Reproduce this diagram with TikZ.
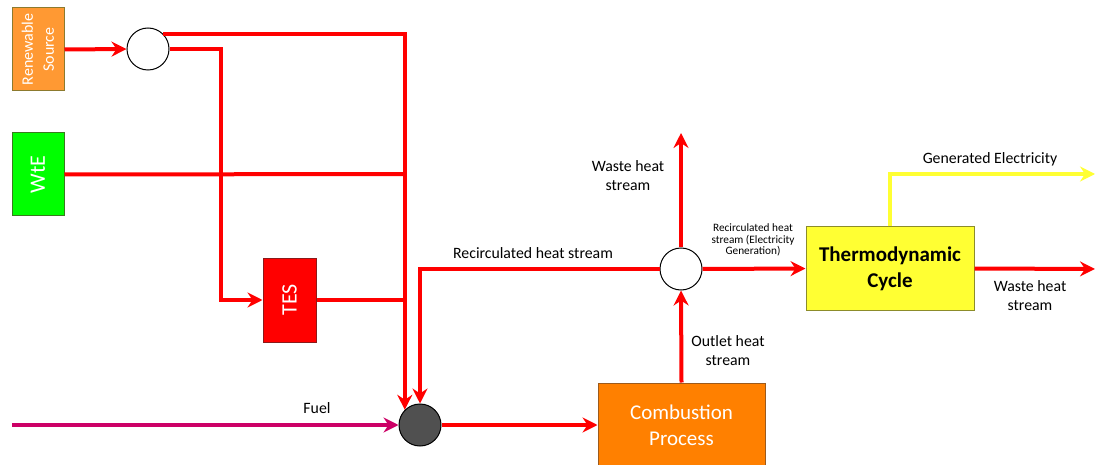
\documentclass[tikz,border=0pt]{standalone}
\usepackage{fontspec}
\setmainfont{Carlito}
\usetikzlibrary{arrows.meta}
\definecolor{flowred}{HTML}{FF0000}
\definecolor{fuelmag}{HTML}{CC0066}
\definecolor{elecyel}{HTML}{FFFF33}
\definecolor{renorange}{HTML}{FF9933}
\definecolor{renborder}{HTML}{8C7A2E}
\definecolor{wtegreen}{HTML}{00FF00}
\definecolor{wteborder}{HTML}{3A7A1E}
\definecolor{tesborder}{HTML}{8B1A1A}
\definecolor{combfill}{HTML}{FF8000}
\definecolor{combborder}{HTML}{9C5A1C}
\definecolor{thermofill}{HTML}{FFFF33}
\definecolor{thermoborder}{HTML}{8C8C2A}
\definecolor{mixfill}{HTML}{505050}
\begin{document}
\begin{tikzpicture}[x=1pt,y=-1pt,
  tip/.style={-{Stealth[length=15pt,width=15pt,inset=5pt]}},
  flow/.style={draw=flowred,line width=4pt},
  fuelflow/.style={draw=fuelmag,line width=4pt},
  elecflow/.style={draw=elecyel,line width=4pt},
  srcbox/.style={rectangle,line width=1pt,inner sep=0pt,text=white,align=center},
  junction/.style={circle,draw=black,line width=1pt,minimum size=42pt,inner sep=0pt},
  lbl/.style={align=center,text=black,font=\fontsize{15.8}{19}\selectfont},
  smalllbl/.style={align=center,text=black,font=\fontsize{11.3}{11.8}\selectfont}]
\useasboundingbox (0,0) rectangle (1095,465);

% boxes
\node[srcbox,fill=renorange,draw=renborder,minimum width=52pt,minimum height=83pt] (ren) at (38,49.5) {};
\node[rotate=90,text=white,align=center,font=\fontsize{16}{21}\selectfont] (rentxt) at (ren.center) {Renewable\\Source};
\node[srcbox,fill=wtegreen,draw=wteborder,minimum width=52pt,minimum height=83pt] (wte) at (38,174.5) {};
\node[rotate=90,text=white,font=\fontsize{22}{24}\selectfont] (wtetxt) at (wte.center) {WtE};
\node[srcbox,fill=flowred,draw=tesborder,minimum width=53pt,minimum height=84pt] (tes) at (289.5,300) {};
\node[rotate=90,text=white,font=\fontsize{22}{24}\selectfont] (testxt) at (tes.center) {TES};
\node[srcbox,fill=combfill,draw=combborder,minimum width=167pt,minimum height=84pt,font=\fontsize{21}{26}\selectfont] (comb) at (681.5,425) {Combustion\\Process};
\node[srcbox,fill=thermofill,draw=thermoborder,minimum width=168pt,minimum height=83pt,text=black,font=\fontsize{21}{26}\selectfont\bfseries] (thermo) at (890,268.5) {Thermodynamic\\Cycle};

% junctions
\node[junction,fill=white] (c1) at (148,49) {};
\node[junction,fill=white] (split) at (681,269) {};
\node[junction,fill=mixfill] (mix) at (420,425) {};

% free ends
\coordinate (j1) at (405,174);
\coordinate (j2) at (405,300);
\coordinate (fuelin) at (12,425);
\coordinate (wasteup) at (681,133);
\coordinate (wasteright) at (1095,269);
\coordinate (elecout) at (1095,174);

% connectors
\draw[flow,tip] (ren.east) -- (c1.west);
\draw[flow,tip] (c1.45) -| (mix.135.6);
\draw[flow,tip] (c1.east) -- ++(51,0) |- (tes.west);
\draw[flow] (wte.east) -- (j1);
\draw[flow] (tes.east) -- (j2);
\draw[flow,tip] (split.west) -| (mix.north);
\draw[fuelflow,tip] (fuelin) -- (mix.west);
\draw[flow,tip] (mix.east) -- (comb.west);
\draw[flow,tip] (comb.north) -- (split.south);
\draw[flow,tip] (split.north) -- (wasteup);
\draw[flow,tip] (split.east) -- (thermo.west);
\draw[flow,tip] (thermo.east) -- (wasteright);
\draw[elecflow,tip] (thermo.north) |- (elecout);

% labels
\node[lbl] (lfuel) at (317,408) {Fuel};
\node[lbl] (lrecirc) at (533,253) {Recirculated heat stream};
\node[lbl] (lwaste1) at (628,176) {Waste heat\\stream};
\node[smalllbl] (lrecel) at (753,240) {Recirculated heat\\stream (Electricity\\Generation)};
\node[lbl] (loutlet) at (728,351) {Outlet heat\\stream};
\node[lbl] (lelec) at (990,159) {Generated Electricity};
\node[lbl] (lwaste2) at (1030,296) {Waste heat\\stream};
\end{tikzpicture}
\end{document}
